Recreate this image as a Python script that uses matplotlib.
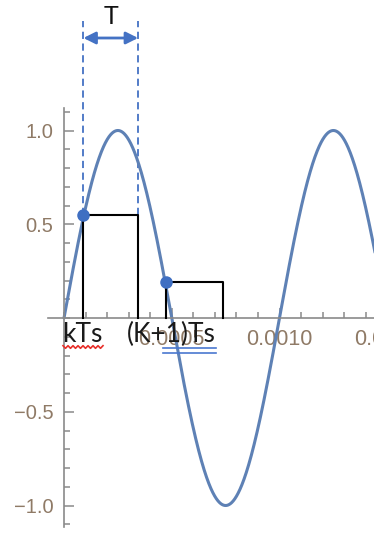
import numpy as np
import matplotlib
matplotlib.use("Agg")
import matplotlib.pyplot as plt
from matplotlib.ticker import FixedLocator, MultipleLocator
from matplotlib.lines import Line2D

# Continuous signal: 1 kHz sine
freq_hz = 1000.0
amplitude = 1.0

# Zero-order-hold samples: start time, held value, end of hold
sample_times = [0.00009, 0.000472]
sample_values = [0.55, 0.19]
hold_ends = [0.000344, 0.00074]

x_ticks = [0.0005, 0.0010, 0.0015]
x_tick_labels = ["0.0005", "0.0010", "0.0015"]
y_ticks = [-1.0, -0.5, 0.5, 1.0]
y_tick_labels = ["\u22121.0", "\u22120.5", "0.5", "1.0"]

W, H, DPI = 374, 533, 100
fig = plt.figure(figsize=(W / DPI, H / DPI), dpi=DPI)
fig.patch.set_facecolor("white")

# Axes layout (pixels): origin and scale
x0_px, y0_px = 64, 318
px_per_x = 215.5e3
px_per_y = 187.5
left_px, right_px, top_px, bot_px = 48, 440, 108, 527
xlim = ((left_px - x0_px) / px_per_x, (right_px - x0_px) / px_per_x)
ylim = (-(bot_px - y0_px) / px_per_y, (y0_px - top_px) / px_per_y)

ax = fig.add_axes([left_px / W, 1 - bot_px / H,
                   (right_px - left_px) / W, (bot_px - top_px) / H])
ax.set_xlim(*xlim)
ax.set_ylim(*ylim)
ax.patch.set_alpha(0)

axis_col = "#8a8a8a"
tick_txt = "#8f7a66"
for side in ("top", "right"):
    ax.spines[side].set_visible(False)
ax.spines["left"].set_position(("data", 0))
ax.spines["bottom"].set_position(("data", 0))
for side in ("left", "bottom"):
    ax.spines[side].set_color(axis_col)
    ax.spines[side].set_linewidth(1.2)

ax.xaxis.set_major_locator(FixedLocator(x_ticks))
ax.set_xticklabels(x_tick_labels)
ax.xaxis.set_minor_locator(MultipleLocator(0.0001))
ax.yaxis.set_major_locator(FixedLocator(y_ticks))
ax.set_yticklabels(y_tick_labels)
ax.yaxis.set_minor_locator(MultipleLocator(0.1))
ax.tick_params(which="both", direction="in", color=axis_col, width=1.1)
ax.tick_params(which="major", length=7)
ax.tick_params(which="minor", length=4)
ax.tick_params(axis="x", which="major", pad=8, labelsize=15.5, labelcolor=tick_txt)
ax.tick_params(axis="y", which="major", pad=7.5, labelsize=14.5, labelcolor=tick_txt)
for lab in ax.get_xticklabels() + ax.get_yticklabels():
    lab.set_family("Liberation Sans")

# Sine curve
t = np.linspace(0, xlim[1], 2000)
ax.plot(t, amplitude * np.sin(2 * np.pi * freq_hz * t),
        color="#5E81B5", lw=2.2, zorder=2, solid_capstyle="round")

# Held samples
for ts, v, te in zip(sample_times, sample_values, hold_ends):
    ax.plot([ts, ts, te, te], [0, v, v, 0], color="black", lw=1.5, zorder=3)
ax.plot(sample_times, sample_values, "o", color="#3F6FC2", ms=8, zorder=4)

# Sampling period annotation
blue = "#4472C4"
top_y = (y0_px - 21) / px_per_y
arrow_y = (y0_px - 38) / px_per_y
ax.plot([sample_times[0]] * 2, [sample_values[0], top_y], color=blue, lw=1.3,
        dashes=(4, 2.5), clip_on=False, zorder=1)
ax.plot([hold_ends[0]] * 2, [sample_values[0], top_y], color=blue, lw=1.3,
        dashes=(4, 2.5), clip_on=False, zorder=1)
ax.annotate("", xy=(hold_ends[0], arrow_y), xytext=(sample_times[0], arrow_y),
            arrowprops=dict(arrowstyle="<|-|>", color=blue, lw=2,
                            mutation_scale=18, shrinkA=0, shrinkB=0),
            annotation_clip=False)
ax.text((sample_times[0] + hold_ends[0]) / 2, (y0_px - 16) / px_per_y, "T",
        ha="center", va="center", fontsize=18, family="Lato", color="#111111")

# Sample-instant labels
base_y = -(342 - y0_px) / px_per_y
ax.text((62 - x0_px) / px_per_x, base_y, "kTs", ha="left", va="baseline",
        fontsize=19, family="Lato", color="#1a1a1a", zorder=6)
ax.text((127 - x0_px) / px_per_x, base_y, "(K+1)Ts", ha="left", va="baseline",
        fontsize=19, family="Lato", color="#1a1a1a", zorder=6)


def px(x, y):
    return x / W, 1 - y / H


# Red wavy underline
wx = np.arange(63, 104, 2.5)
wy = 347 + np.where(np.arange(len(wx)) % 2 == 0, -1.3, 1.3)
fx, fy = zip(*[px(a, b) for a, b in zip(wx, wy)])
fig.add_artist(Line2D(fx, fy, transform=fig.transFigure, color="#e8302a", lw=1.2))

# Blue double underline
for yy in (348.3, 352.5):
    (xa, ya), (xb, yb) = px(163, yy), px(216, yy)
    fig.add_artist(Line2D([xa, xb], [ya, yb], transform=fig.transFigure,
                          color="#4a78d0", lw=1.2))

fig.savefig("out.png", dpi=DPI)
